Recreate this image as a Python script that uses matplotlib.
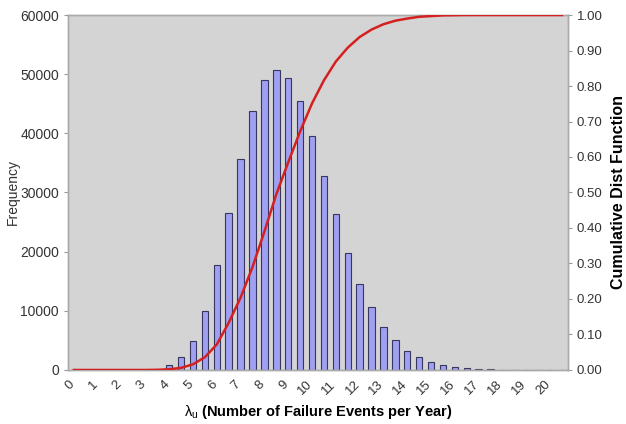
import numpy as np
import matplotlib
matplotlib.use('Agg')
import matplotlib.pyplot as plt

plt.rcParams['font.family'] = ['Liberation Sans', 'DejaVu Sans']
plt.rcParams['mathtext.fontset'] = 'custom'
plt.rcParams['mathtext.rm'] = 'Liberation Sans'
plt.rcParams['mathtext.it'] = 'Liberation Sans'

# ── data (bins of width 0.5, centred at x.25 / x.75) ──
bin_centers = np.arange(0.25, 21.0, 0.5)
frequency = [0, 0, 0, 0, 0, 0, 0, 60,
             850, 2140, 4900, 10000, 17700, 26500, 35600, 43800,
             49000, 50700, 49300, 45400, 39500, 32800, 26400, 19700,
             14600, 10600, 7300, 5070, 3260, 2140, 1400, 850,
             560, 340, 200, 120, 70, 40, 20, 0, 0, 0]
cdf = [0, 0, 0, 0, 0, 0, 0, 0.0005,
       0.002, 0.006, 0.016, 0.036, 0.072, 0.133, 0.204, 0.290,
       0.390, 0.495, 0.585, 0.672, 0.751, 0.816, 0.869, 0.908,
       0.938, 0.959, 0.974, 0.984, 0.990, 0.995, 0.997, 0.999,
       0.9995, 1.0, 1.0, 1.0, 1.0, 1.0, 1.0, 1.0, 1.0, 1.0]
tick_vals = list(range(0, 21))

fig = plt.figure(figsize=(6.26, 4.24), dpi=100)
ax = fig.add_axes([0.1086, 0.1274, 0.7987, 0.8372])
ax.set_facecolor('#D4D4D4')

ax.bar(bin_centers, frequency, width=0.27, color='#A0A0F2',
       edgecolor='#36365E', linewidth=0.8, zorder=2)
ax.set_xlim(0, 21)
ax.set_ylim(0, 60000)
ax.set_yticks(range(0, 60001, 10000))
ax.set_xticks(tick_vals)
ax.set_xticklabels([str(t) for t in tick_vals], rotation=45, ha='right',
                   rotation_mode='anchor', fontsize=9.5, color='#333333')
ax.tick_params(axis='y', labelsize=10, labelcolor='#333333', length=3,
               color='#999999')
ax.tick_params(axis='x', length=0, pad=6)
ax.set_ylabel('Frequency', fontsize=10, color='#333333')
ax.yaxis.set_label_coords(-0.097, 0.5)
ax.set_xlabel(r'$\lambda_{\mathrm{u}}$ (Number of Failure Events per Year)',
              fontsize=10.5, fontweight='bold', labelpad=4)
for s in ax.spines.values():
    s.set_color('#AAAAAA')
    s.set_linewidth(1)

ax2 = ax.twinx()
ax2.plot(bin_centers, cdf, color='#D42020', lw=1.8, zorder=3)
ax2.set_ylim(0, 1)
ax2.set_yticks(np.arange(0, 1.01, 0.1))
ax2.set_yticklabels([f'{v:.2f}' for v in np.arange(0, 1.01, 0.1)])
ax2.tick_params(axis='y', labelsize=9.5, labelcolor='#333333', length=3,
                color='#999999')
ax2.set_ylabel('Cumulative Dist Function', fontsize=11.5, fontweight='bold',
               labelpad=6)
for s in ax2.spines.values():
    s.set_color('#AAAAAA')
    s.set_linewidth(1)

plt.savefig('out.png', dpi=100)
